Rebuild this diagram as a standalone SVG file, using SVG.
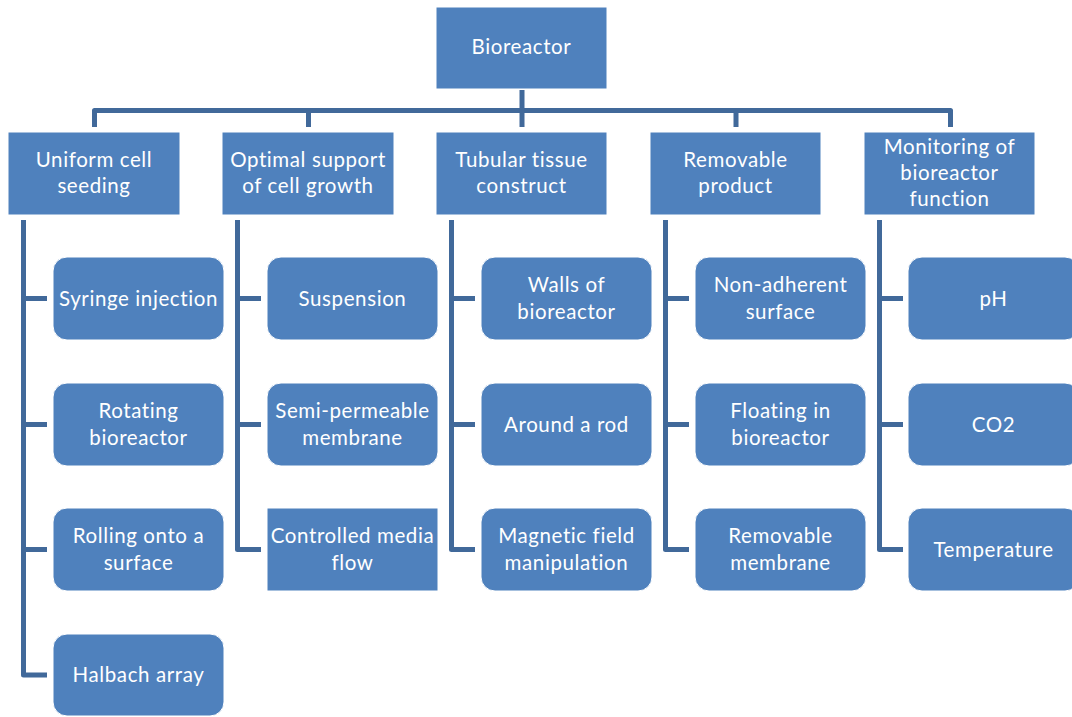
<svg xmlns="http://www.w3.org/2000/svg" width="1072" height="717" viewBox="0 0 1072 717">
<style>
.box{fill:#4f81bd;stroke:#ffffff;stroke-width:1}
.t{font-family:Lato,"Open Sans","Liberation Sans",sans-serif;font-size:20.5px;letter-spacing:0.6px;fill:#ffffff;text-anchor:middle}
.c{fill:none;stroke:#41699a;stroke-width:5;stroke-linejoin:round}
</style>
<rect width="1072" height="717" fill="#ffffff"/>
<g id="connectors">
<path class="c" d="M94.5,127 V110.5 H950.5 V127"/>
<path class="c" d="M522,90 V127 M308.5,110.5 V127 M736,110.5 V127"/>
<path class="c" d="M23.5,220 V675 H47 M23.5,298.5 H47 M23.5,424.5 H47 M23.5,549.5 H47"/>
<path class="c" d="M237.5,220 V549.5 H261 M237.5,298.5 H261 M237.5,424.5 H261"/>
<path class="c" d="M451.5,220 V549.5 H475 M451.5,298.5 H475 M451.5,424.5 H475"/>
<path class="c" d="M665.5,220 V549.5 H689 M665.5,298.5 H689 M665.5,424.5 H689"/>
<path class="c" d="M879.5,220 V549.5 H903 M879.5,298.5 H903 M879.5,424.5 H903"/>
</g>
<g id="bioreactor"><rect class="box" x="436" y="7" width="171" height="82"/><text class="t" x="521.5" y="54">Bioreactor</text></g>
<g id="uniform"><rect class="box" x="8" y="132" width="172" height="83"/><text class="t" x="94" y="166.5">Uniform cell</text><text class="t" x="94" y="193">seeding</text></g>
<g id="optimal"><rect class="box" x="222" y="132" width="172" height="83"/><text class="t" x="308" y="166.5">Optimal support</text><text class="t" x="308" y="193">of cell growth</text></g>
<g id="tubular"><rect class="box" x="436" y="132" width="171" height="83"/><text class="t" x="521.5" y="166.5">Tubular tissue</text><text class="t" x="521.5" y="193">construct</text></g>
<g id="removable"><rect class="box" x="650" y="132" width="171" height="83"/><text class="t" x="735.5" y="166.5">Removable</text><text class="t" x="735.5" y="193">product</text></g>
<g id="monitoring"><rect class="box" x="864" y="132" width="171" height="83"/><text class="t" x="949.5" y="153.5">Monitoring of</text><text class="t" x="949.5" y="180">bioreactor</text><text class="t" x="949.5" y="206">function</text></g>

<g id="syringe"><rect class="box" x="53" y="257" width="171" height="83" rx="14"/><text class="t" x="138.5" y="305.5">Syringe injection</text></g>
<g id="rotating"><rect class="box" x="53" y="383" width="171" height="83" rx="14"/><text class="t" x="138.5" y="418">Rotating</text><text class="t" x="138.5" y="444.5">bioreactor</text></g>
<g id="rolling"><rect class="box" x="53" y="508" width="171" height="83" rx="14"/><text class="t" x="138.5" y="543">Rolling onto a</text><text class="t" x="138.5" y="569.5">surface</text></g>
<g id="halbach"><rect class="box" x="53" y="634" width="171" height="82" rx="14"/><text class="t" x="138.5" y="682">Halbach array</text></g>

<g id="suspension"><rect class="box" x="267" y="257" width="171" height="83" rx="14"/><text class="t" x="352.5" y="305.5">Suspension</text></g>
<g id="semipermeable"><rect class="box" x="267" y="383" width="171" height="83" rx="14"/><text class="t" x="352.5" y="418">Semi-permeable</text><text class="t" x="352.5" y="444.5">membrane</text></g>
<g id="controlled"><rect class="box" x="267" y="508" width="171" height="83"/><text class="t" x="352.5" y="543">Controlled media</text><text class="t" x="352.5" y="569.5">flow</text></g>

<g id="walls"><rect class="box" x="481" y="257" width="171" height="83" rx="14"/><text class="t" x="566.5" y="292">Walls of</text><text class="t" x="566.5" y="318.5">bioreactor</text></g>
<g id="rod"><rect class="box" x="481" y="383" width="171" height="83" rx="14"/><text class="t" x="566.5" y="431.5">Around a rod</text></g>
<g id="magnetic"><rect class="box" x="481" y="508" width="171" height="83" rx="14"/><text class="t" x="566.5" y="543">Magnetic field</text><text class="t" x="566.5" y="569.5">manipulation</text></g>

<g id="nonadherent"><rect class="box" x="695" y="257" width="171" height="83" rx="14"/><text class="t" x="780.5" y="292">Non-adherent</text><text class="t" x="780.5" y="318.5">surface</text></g>
<g id="floating"><rect class="box" x="695" y="383" width="171" height="83" rx="14"/><text class="t" x="780.5" y="418">Floating in</text><text class="t" x="780.5" y="444.5">bioreactor</text></g>
<g id="removablemembrane"><rect class="box" x="695" y="508" width="171" height="83" rx="14"/><text class="t" x="780.5" y="543">Removable</text><text class="t" x="780.5" y="569.5">membrane</text></g>

<g id="ph"><rect class="box" x="908" y="257" width="171" height="83" rx="14"/><text class="t" x="993.5" y="305.5">pH</text></g>
<g id="co2"><rect class="box" x="908" y="383" width="171" height="83" rx="14"/><text class="t" x="993.5" y="431.5">CO2</text></g>
<g id="temperature"><rect class="box" x="908" y="508" width="171" height="83" rx="14"/><text class="t" x="993.5" y="556.5">Temperature</text></g>
</svg>
